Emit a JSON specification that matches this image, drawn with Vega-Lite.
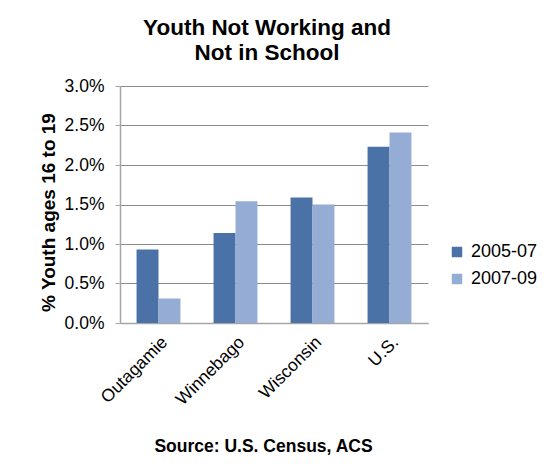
{
  "$schema": "https://vega.github.io/schema/vega-lite/v6.json",
  "autosize": "none",
  "width": 308,
  "height": 237,
  "padding": {"left": 120, "top": 86, "right": 120, "bottom": 143},
  "background": "white",
  "title": {
    "text": ["Youth Not Working and", "Not in School"],
    "font": "Liberation Sans",
    "fontSize": 22.5,
    "fontWeight": "bold",
    "color": "black",
    "lineHeight": 25,
    "offset": 13,
    "dx": -7,
    "anchor": "middle"
  },
  "data": {
    "values": [
      {"region": "Outagamie", "period": "2005-07", "value": 0.0093},
      {"region": "Outagamie", "period": "2007-09", "value": 0.0031},
      {"region": "Winnebago", "period": "2005-07", "value": 0.0114},
      {"region": "Winnebago", "period": "2007-09", "value": 0.0154},
      {"region": "Wisconsin", "period": "2005-07", "value": 0.0159},
      {"region": "Wisconsin", "period": "2007-09", "value": 0.0150},
      {"region": "U.S.", "period": "2005-07", "value": 0.0223},
      {"region": "U.S.", "period": "2007-09", "value": 0.0241}
    ]
  },
  "mark": {"type": "bar"},
  "encoding": {
    "x": {
      "field": "region",
      "type": "nominal",
      "sort": ["Outagamie", "Winnebago", "Wisconsin", "U.S."],
      "scale": {"paddingInner": 0.43, "paddingOuter": 0.215},
      "axis": {
        "title": "Source:  U.S. Census, ACS",
        "titleFont": "Liberation Sans",
        "titleFontSize": 17.5,
        "titleFontWeight": "bold",
        "titleColor": "black",
        "titlePadding": 30,
        "titleX": 143,
        "labelAngle": -45,
        "labelFont": "Liberation Sans",
        "labelFontSize": 17.5,
        "labelColor": "black",
        "labelPadding": 10,
        "ticks": false,
        "domainColor": "#a6a6a6",
        "domainWidth": 1.5
      }
    },
    "xOffset": {"field": "period", "type": "nominal"},
    "y": {
      "field": "value",
      "type": "quantitative",
      "scale": {"domain": [0, 0.03]},
      "axis": {
        "title": "% Youth ages 16 to 19",
        "titleFont": "Liberation Sans",
        "titleFontSize": 19,
        "titleFontWeight": "bold",
        "titleColor": "black",
        "titlePadding": 6,
        "titleY": 126,
        "format": ".1%",
        "values": [0, 0.005, 0.01, 0.015, 0.02, 0.025, 0.03],
        "labelFont": "Liberation Sans",
        "labelFontSize": 17.5,
        "labelColor": "black",
        "labelPadding": 11,
        "tickSize": 5,
        "tickColor": "#a6a6a6",
        "domainColor": "#a6a6a6",
        "domainWidth": 1.5,
        "grid": true,
        "gridColor": "#8c8c8c",
        "gridWidth": 1
      }
    },
    "color": {
      "field": "period",
      "type": "nominal",
      "scale": {"range": ["#4a72a6", "#95acd4"]},
      "legend": {
        "title": null,
        "orient": "none",
        "legendX": 328,
        "legendY": 157,
        "symbolType": "square",
        "symbolSize": 110,
        "symbolStrokeWidth": 0,
        "labelFont": "Liberation Sans",
        "labelFontSize": 18,
        "labelColor": "black",
        "labelOffset": 5,
        "rowPadding": 9
      }
    }
  },
  "config": {"view": {"stroke": null}}
}
